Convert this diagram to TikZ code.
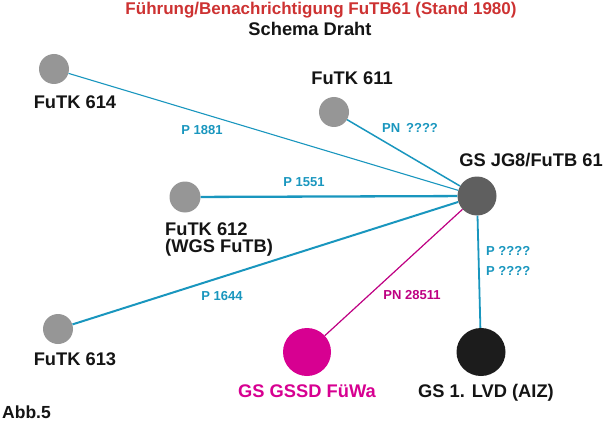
\documentclass[tikz,border=0pt]{standalone}
\usepackage{fontspec}
\setmainfont{Liberation Sans}
\usetikzlibrary{shapes.geometric}
\definecolor{cline}{RGB}{25,150,190}
\definecolor{mline}{RGB}{190,0,130}
\definecolor{mfill}{RGB}{215,0,145}
\definecolor{tred}{RGB}{205,50,50}
\definecolor{lgray}{RGB}{150,150,150}
\definecolor{dgray}{RGB}{95,95,95}
\definecolor{nblack}{RGB}{28,28,28}
\definecolor{tblack}{RGB}{20,20,20}
\tikzset{
  small/.style={circle, fill=lgray, inner sep=0pt, minimum size=30pt},
  hubnode/.style={circle, fill=dgray, inner sep=0pt, minimum size=39pt},
  bignode/.style={ellipse, inner sep=0pt, minimum width=49pt, minimum height=48pt},
  lbl/.style={font=\bfseries\fontsize{18.3}{21}\selectfont, text=tblack, inner sep=0pt},
  clbl/.style={font=\bfseries\fontsize{13}{15}\selectfont, text=cline, inner sep=0pt},
  cconn/.style={draw=cline, line width=1.6pt},
}
\begin{document}
\begin{tikzpicture}[x=1pt,y=-1pt]
\useasboundingbox (0,0) rectangle (604,422);
% title
\node[font=\bfseries\fontsize{17}{20}\selectfont, text=tred, inner sep=0pt] (title) at (321,10) {Führung/Benachrichtigung FuTB61 (Stand 1980)};
\node[lbl] (sub) at (310,29) {Schema Draht};
% nodes
\node[small] (n614) at (54,69) {};
\node[small] (n611) at (334,112) {};
\node[small, minimum size=31pt] (n612) at (185,197) {};
\node[small] (n613) at (58,329) {};
\node[hubnode] (hub) at (477,196) {};
\node[bignode, fill=mfill, minimum width=48pt] (gssd) at (307,352) {};
\node[bignode, fill=nblack] (lvd) at (481,352) {};
% connectors
\draw[cconn, line width=1.1pt] (n614) -- (hub);
\draw[cconn, line width=1.5pt] (n611) -- (hub);
\draw[cconn, line width=2.3pt] (n612) -- (hub);
\draw[cconn, line width=2pt] (n613) -- (hub);
\draw[cconn, line width=1.8pt] (hub) -- (lvd);
\draw[draw=mline, line width=1.2pt] (hub) -- (gssd);
% labels
\node[lbl, anchor=base] (l614) at (75,109) {FuTK 614};
\node[lbl, anchor=base] (l611) at (352,85) {FuTK 611};
\node[lbl, anchor=base west] (l612) at (165,235) {FuTK 612};
\node[lbl, anchor=base west] (l612b) at (165,252) {(WGS FuTB)};
\node[lbl, anchor=base] (l613) at (75,365) {FuTK 613};
\node[lbl, anchor=base] (lhub) at (531,166) {GS JG8/FuTB 61};
\node[lbl, anchor=base, text=mfill] (lgssd) at (307,397) {GS GSSD FüWa};
\node[lbl, anchor=base] (llvd) at (486,397) {GS 1. LVD (AIZ)};
\node[lbl, font=\bfseries\fontsize{17.5}{20}\selectfont, anchor=base west] (abb) at (2,418.5) {Abb.5};
% connector labels
\node[clbl] (p1881) at (202,130) {P 1881};
\node[clbl] (pn) at (410,128) {PN\hspace{6pt}????};
\node[clbl] (p1551) at (304,182) {P 1551};
\node[clbl] (p1644) at (222,296) {P 1644};
\node[clbl, text=mline] (pn28511) at (412,295) {PN 28511};
\node[clbl, anchor=west] (pq1) at (486,251) {P ????};
\node[clbl, anchor=west] (pq2) at (486,271) {P ????};
\end{tikzpicture}
\end{document}
